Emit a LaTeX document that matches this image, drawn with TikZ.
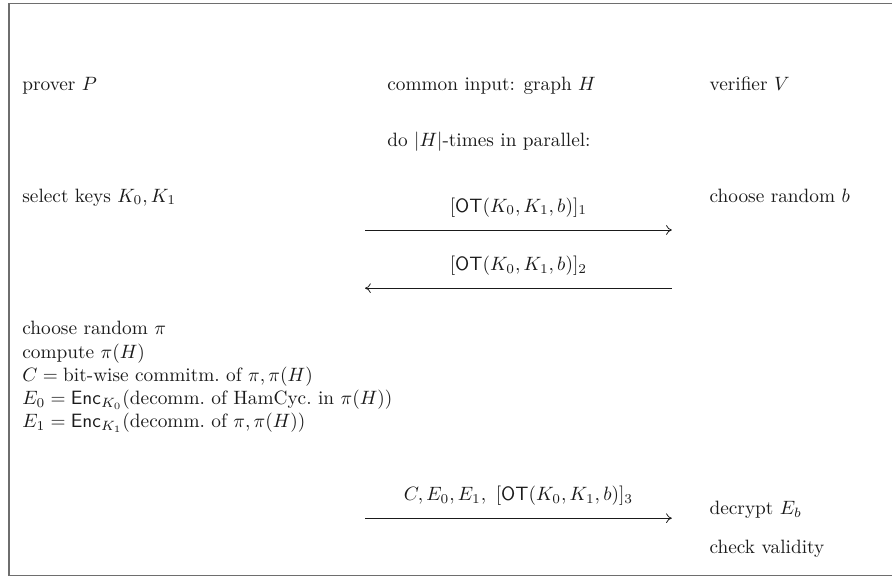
\documentclass[tikz,border=0pt]{standalone}
\definecolor{ZFrame}{HTML}{6E6E6E}
\definecolor{ZInk}{HTML}{1A1A1A}
\usepackage{amsmath,amssymb}
\usepackage{tikz}
\usetikzlibrary{arrows.meta,positioning}
\tikzset{
  party/.style={anchor=base west,inner sep=0pt,text=ZInk},
  msg/.style={-{To[length=3pt,width=5pt]},line width=0.4pt,draw=ZInk},
  msglabel/.style={above=6.6pt,inner sep=0pt,text=ZInk}
}

\begin{document}
\begin{tikzpicture}
    \useasboundingbox (0,0) rectangle (16.25,-10.51);
    \draw[ZFrame,line width=0.8pt] (16.6,-0.06) -| (0.16,-10.48) -- (16.6,-10.48);

    \node[party] (prover) at (0.40,-1.64) {prover $P$};
    \node[party] (common) at (7.05,-1.64) {common input: graph $H$};
    \node[party] (verifier) at (12.92,-1.64) {verifier $V$};
    \node[party] (repeat) at (7.05,-2.66) {do $|H|$-times in parallel:};

    \node[party] (keys) at (0.40,-3.68) {select keys $K_0,K_1$};
    \node[party] (bit) at (12.92,-3.68) {choose random $b$};

    \coordinate (m1s) at (6.65,-4.19);
    \coordinate (m1e) at (12.24,-4.19);
    \draw[msg] (m1s) -- node[msglabel] (ot1) {$[\mathsf{OT}(K_0,K_1,b)]_1$} (m1e);

    \coordinate (m2s) at (12.24,-5.25);
    \coordinate (m2e) at (6.65,-5.25);
    \draw[msg] (m2s) -- node[msglabel] (ot2) {$[\mathsf{OT}(K_0,K_1,b)]_2$} (m2e);

    \node[party,anchor=north west,align=left] (commit) at (0.40,-5.85) {%
      choose random $\pi$\\
      compute $\pi(H)$\\
      $C=\text{bit-wise commitm.\ of }\pi,\pi(H)$\\
      $E_0=\mathsf{Enc}_{K_0}(\text{decomm.\ of HamCyc.\ in }\pi(H))$\\
      $E_1=\mathsf{Enc}_{K_1}(\text{decomm.\ of }\pi,\pi(H))$};

    \coordinate (m3s) at (6.65,-9.44);
    \coordinate (m3e) at (12.24,-9.44);
    \draw[msg] (m3s) -- node[msglabel] (ot3) {$C,E_0,E_1,\ [\mathsf{OT}(K_0,K_1,b)]_3$} (m3e);

    \node[party] (decrypt) at (12.92,-9.37) {decrypt $E_b$};
    \node[party] (check) at (12.92,-10.09) {check validity};
  \end{tikzpicture}
\end{document}
